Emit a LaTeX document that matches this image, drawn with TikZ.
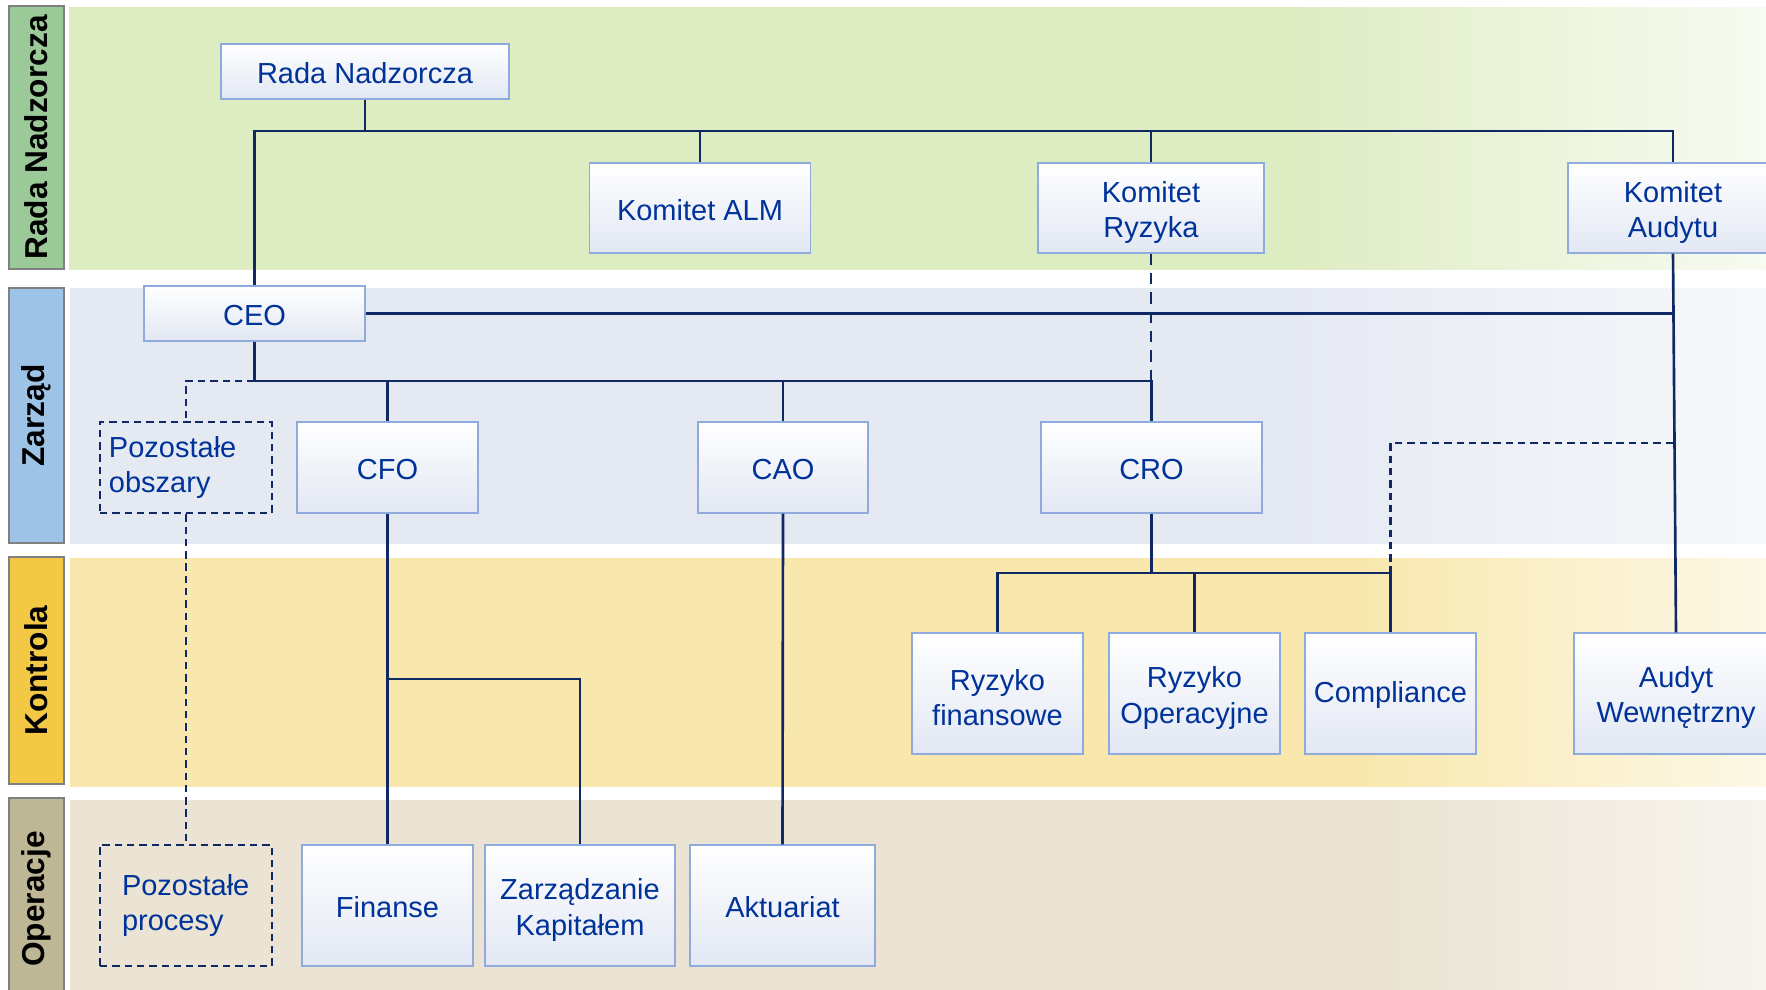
\documentclass[tikz,border=0pt]{standalone}
\usepackage{fontspec}
\setmainfont{Liberation Sans}
\definecolor{txtblue}{RGB}{0,51,153}
\definecolor{navy}{RGB}{16,40,100}
\definecolor{boxline}{RGB}{143,170,220}
\definecolor{boxbot}{RGB}{226,231,243}
\definecolor{bandgreen}{RGB}{222,236,194}
\definecolor{bandblue}{RGB}{229,233,242}
\definecolor{bandyellow}{RGB}{248,232,174}
\definecolor{bandbeige}{RGB}{235,228,212}
\definecolor{labgreen}{RGB}{155,202,152}
\definecolor{labblue}{RGB}{157,195,230}
\definecolor{labyellow}{RGB}{242,200,68}
\definecolor{labkhaki}{RGB}{190,183,150}
\pgfdeclarehorizontalshading{fadegreen}{100bp}{color(0bp)=(bandgreen); color(25bp)=(bandgreen);
  color(61bp)=(bandgreen); color(75bp)=(bandgreen!22!white); color(100bp)=(bandgreen!22!white)}
\pgfdeclarehorizontalshading{fadeblue}{100bp}{color(0bp)=(bandblue); color(25bp)=(bandblue);
  color(61bp)=(bandblue); color(75bp)=(bandblue!30!white); color(100bp)=(bandblue!30!white)}
\pgfdeclarehorizontalshading{fadeyellow}{100bp}{color(0bp)=(bandyellow); color(25bp)=(bandyellow);
  color(63bp)=(bandyellow); color(75bp)=(bandyellow!30!white); color(100bp)=(bandyellow!30!white)}
\pgfdeclarehorizontalshading{fadebeige}{100bp}{color(0bp)=(bandbeige); color(25bp)=(bandbeige);
  color(64bp)=(bandbeige); color(75bp)=(bandbeige!40!white); color(100bp)=(bandbeige!40!white)}
\newcommand{\fstrut}{\rule{0pt}{17pt}}
\tikzstyle{box}=[rectangle, draw=boxline, line width=.6pt, top color=white,
                 bottom color=boxbot, text=txtblue, align=center, inner sep=0pt,
                 font=\fontsize{16.5}{20}\selectfont, execute at begin node={\rule{0pt}{14pt}}]
\tikzstyle{dbox}=[rectangle, draw=navy, line width=1.4pt, dash pattern=on 4.2pt off 2.8pt,
                  text=txtblue, align=left, inner sep=0pt, font=\fontsize{16.5}{20}\selectfont]
\tikzstyle{lab}=[rectangle, draw=black!50, line width=1.2pt, rotate=90, minimum height=11mm,
                 font=\fontsize{18}{20}\selectfont\bfseries]
\tikzstyle{conn}=[navy, line width=1.5pt]
\tikzstyle{dconn}=[conn, dash pattern=on 4.2pt off 2.8pt]
\tikzstyle{ldconn}=[conn, dash pattern=on 6.5pt off 4.5pt]

\begin{document}
\begin{tikzpicture}[x=0.2mm, y=-0.2mm]
    \clip (0,0) rectangle (1766,990);
    \fill[white] (0,0) rectangle (1766,990);
    \shade[shading=fadegreen] (69,8) rectangle (1766,269);
    \shade[shading=fadeblue] (70,288) rectangle (1766,543);
    \shade[shading=fadeyellow] (70,558) rectangle (1766,786);
    \shade[shading=fadebeige] (70,800) rectangle (1766,1000);
    \node[lab, fill=labgreen, minimum width=52.6mm] (srada) at (36.5,137.5) {Rada Nadzorcza};
    \node[lab, fill=labblue, minimum width=51mm] (szarz) at (36.5,415.5) {Zarząd};
    \node[lab, fill=labyellow, minimum width=45.4mm] (skontr) at (36.5,670.5) {Kontrola};
    \node[lab, fill=labkhaki, minimum width=40.4mm] (soper) at (36.5,899) {Operacje};

    \coordinate (topbus) at (0,131);
    \coordinate (ceobus) at (0,381);
    \coordinate (audbus) at (0,443);
    \coordinate (crobus) at (0,573);
    \coordinate (cfobus) at (0,679);

    \node[box, minimum width=57.6mm, minimum height=11mm] (rada) at (365,71.5) {Rada Nadzorcza};
    \node[box, minimum width=44.2mm, minimum height=18mm] (alm) at (700,208) {Komitet ALM};
    \node[box, minimum width=45.2mm, minimum height=18mm] (kryz) at (1151,208) {\fstrut Komitet\\Ryzyka};
    \node[box, minimum width=42mm, minimum height=18mm] (kaud) at (1673,208) {\fstrut Komitet\\Audytu};
    \node[box, minimum width=44.2mm, minimum height=11mm] (ceo) at (254.5,313.5) {CEO};
    \node[dbox, text width=30.8mm, inner xsep=1.8mm, minimum height=18.2mm] (pobsz) at (186,467.5)
         {Pozostałe\\obszary};
    \node[box, minimum width=36.2mm, minimum height=18.2mm] (cfo) at (387.5,467.5) {CFO};
    \node[box, minimum width=34mm, minimum height=18.2mm] (cao) at (783,467.5) {CAO};
    \node[box, minimum width=44.2mm, minimum height=18.2mm] (cro) at (1151.5,467.5) {CRO};
    \node[box, minimum width=34.2mm, minimum height=24.2mm] (rfin) at (997.5,693.5) {\fstrut Ryzyko\\finansowe};
    \node[box, minimum width=34.2mm, minimum height=24.2mm] (rop) at (1194.5,693.5) {\fstrut Ryzyko\\Operacyjne};
    \node[box, minimum width=34.2mm, minimum height=24.2mm] (compl) at (1390.5,693.5) {Compliance};
    \node[box, minimum width=40.8mm, minimum height=24.2mm] (aud) at (1676,693.5) {\fstrut Audyt\\Wewnętrzny};
    \node[dbox, text width=25.6mm, minimum width=34.4mm, minimum height=24.2mm] (pproc) at (186,905.5)
         {Pozostałe\\procesy};
    \node[box, minimum width=34.2mm, minimum height=24.2mm] (fin) at (387.5,905.5) {Finanse};
    \node[box, minimum width=38mm, minimum height=24.2mm] (zk) at (580,905.5) {\fstrut Zarządzanie\\Kapitałem};
    \node[box, minimum width=37mm, minimum height=24.2mm] (akt) at (782.5,905.5) {Aktuariat};

    \draw[conn] (ceo.north) -- (ceo |- topbus) -| (kaud.north);
    \foreach \from in {rada.south, alm.north, kryz.north}
      \draw[conn] (\from) -- (\from |- topbus);
    \draw[conn] (ceo.east) -- (ceo.east -| kaud);
    \draw[conn] (kaud.south) -- (aud.north);
    \draw[ldconn] (kryz.south) -- (kryz |- ceobus);
    \draw[conn] (ceo.south) -- (ceo |- ceobus) -| (cro.north);
    \foreach \from in {cfo.north, cao.north}
      \draw[conn] (\from) -- (\from |- ceobus);
    \draw[dconn] (ceo |- ceobus) -| (pobsz.north);
    \draw[dconn] (pobsz.south) -- (pproc.north);
    \foreach \from/\to in {cfo.south/fin.north, cao.south/akt.north}
      \draw[conn] (\from) -- (\to);
    \draw[conn] (cfo |- cfobus) -| (zk.north);
    \draw[conn] (cro.south) -- (cro |- crobus);
    \draw[conn] (rfin.north) |- (compl |- crobus) -- (compl.north);
    \draw[conn] (rop.north) -- (rop |- crobus);
    \draw[dconn] (kaud |- audbus) -| (compl |- crobus);
\end{tikzpicture}
\end{document}
